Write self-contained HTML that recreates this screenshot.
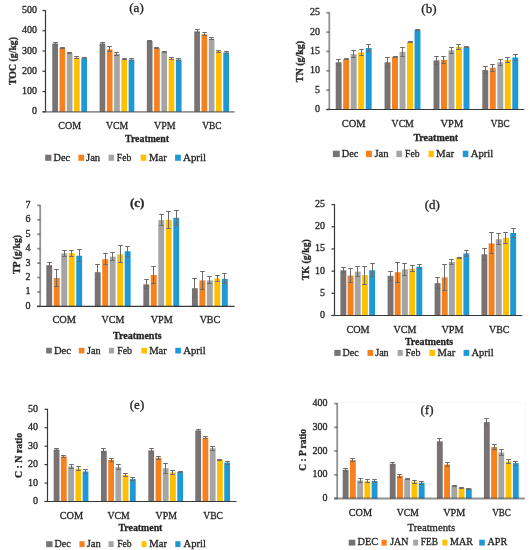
<!DOCTYPE html>
<html><head><meta charset="utf-8"><style>
html,body{margin:0;padding:0;background:#fff;}
svg{display:block;will-change:transform;}
text{font-family:"Liberation Serif",serif;fill:#262626;stroke:#262626;stroke-width:0.3px;}
</style></head><body>
<svg width="530" height="550" viewBox="0 0 530 550">
<rect width="530" height="550" fill="#fff"/>
<rect x="52.26" y="43.52" width="5.7" height="68.28" fill="#787272"/>
<rect x="59.52" y="47.98" width="5.7" height="63.82" fill="#F7801F"/>
<rect x="66.78" y="53.05" width="5.7" height="58.75" fill="#A5A5A5"/>
<rect x="74.04" y="57.71" width="5.7" height="54.09" fill="#FFC000"/>
<rect x="81.3" y="58.31" width="5.7" height="53.49" fill="#1E98D6"/>
<rect x="99.59" y="43.52" width="5.7" height="68.28" fill="#787272"/>
<rect x="106.85" y="49.4" width="5.7" height="62.4" fill="#F7801F"/>
<rect x="114.11" y="53.86" width="5.7" height="57.94" fill="#A5A5A5"/>
<rect x="121.37" y="59.33" width="5.7" height="52.47" fill="#FFC000"/>
<rect x="128.63" y="59.53" width="5.7" height="52.27" fill="#1E98D6"/>
<rect x="146.82" y="41.09" width="5.7" height="70.71" fill="#787272"/>
<rect x="154.08" y="48.18" width="5.7" height="63.62" fill="#F7801F"/>
<rect x="161.34" y="52.03" width="5.7" height="59.77" fill="#A5A5A5"/>
<rect x="168.6" y="58.52" width="5.7" height="53.28" fill="#FFC000"/>
<rect x="175.86" y="59.53" width="5.7" height="52.27" fill="#1E98D6"/>
<rect x="194.24" y="31.37" width="5.7" height="80.43" fill="#787272"/>
<rect x="201.5" y="34.2" width="5.7" height="77.6" fill="#F7801F"/>
<rect x="208.76" y="38.66" width="5.7" height="73.14" fill="#A5A5A5"/>
<rect x="216.02" y="51.22" width="5.7" height="60.58" fill="#FFC000"/>
<rect x="223.28" y="52.44" width="5.7" height="59.36" fill="#1E98D6"/>
<path d="M55.5 42.5V44.5M53.2 42.5H57.8M53.2 44.5H57.8" stroke="#6b6b6b" stroke-width="1" fill="none"/>
<path d="M62.5 47.5V48.5M60.2 47.5H64.8M60.2 48.5H64.8" stroke="#6b6b6b" stroke-width="1" fill="none"/>
<path d="M69.5 52.5V53.5M67.2 52.5H71.8M67.2 53.5H71.8" stroke="#6b6b6b" stroke-width="1" fill="none"/>
<path d="M76.5 56.5V58.5M74.2 56.5H78.8M74.2 58.5H78.8" stroke="#6b6b6b" stroke-width="1" fill="none"/>
<path d="M84.5 57.5V58.5M82.2 57.5H86.8M82.2 58.5H86.8" stroke="#6b6b6b" stroke-width="1" fill="none"/>
<path d="M102.5 42.5V44.5M100.2 42.5H104.8M100.2 44.5H104.8" stroke="#6b6b6b" stroke-width="1" fill="none"/>
<path d="M109.5 46.5V51.5M107.2 46.5H111.8M107.2 51.5H111.8" stroke="#6b6b6b" stroke-width="1" fill="none"/>
<path d="M116.5 52.5V55.5M114.2 52.5H118.8M114.2 55.5H118.8" stroke="#6b6b6b" stroke-width="1" fill="none"/>
<path d="M124.5 58.5V59.5M122.2 58.5H126.8M122.2 59.5H126.8" stroke="#6b6b6b" stroke-width="1" fill="none"/>
<path d="M131.5 58.5V60.5M129.2 58.5H133.8M129.2 60.5H133.8" stroke="#6b6b6b" stroke-width="1" fill="none"/>
<path d="M149.5 40.5V41.5M147.2 40.5H151.8M147.2 41.5H151.8" stroke="#6b6b6b" stroke-width="1" fill="none"/>
<path d="M156.5 47.5V48.5M154.2 47.5H158.8M154.2 48.5H158.8" stroke="#6b6b6b" stroke-width="1" fill="none"/>
<path d="M164.5 51.5V52.5M162.2 51.5H166.8M162.2 52.5H166.8" stroke="#6b6b6b" stroke-width="1" fill="none"/>
<path d="M171.5 57.5V59.5M169.2 57.5H173.8M169.2 59.5H173.8" stroke="#6b6b6b" stroke-width="1" fill="none"/>
<path d="M178.5 58.5V60.5M176.2 58.5H180.8M176.2 60.5H180.8" stroke="#6b6b6b" stroke-width="1" fill="none"/>
<path d="M197.5 29.5V32.5M195.2 29.5H199.8M195.2 32.5H199.8" stroke="#6b6b6b" stroke-width="1" fill="none"/>
<path d="M204.5 32.5V35.5M202.2 32.5H206.8M202.2 35.5H206.8" stroke="#6b6b6b" stroke-width="1" fill="none"/>
<path d="M211.5 37.5V39.5M209.2 37.5H213.8M209.2 39.5H213.8" stroke="#6b6b6b" stroke-width="1" fill="none"/>
<path d="M218.5 50.5V52.5M216.2 50.5H220.8M216.2 52.5H220.8" stroke="#6b6b6b" stroke-width="1" fill="none"/>
<path d="M226.5 51.5V53.5M224.2 51.5H228.8M224.2 53.5H228.8" stroke="#6b6b6b" stroke-width="1" fill="none"/>
<path d="M45.5 10V111.8" stroke="#383838" stroke-width="1.2"/>
<path d="M42.5 111.8H234.6" stroke="#3a3a3a" stroke-opacity="0.55" stroke-width="1.8"/>
<path d="M42.5 111.8H45.5" stroke="#383838" stroke-width="1.2"/>
<text x="36.9" y="114.3" font-size="9.5" text-anchor="end" textLength="5" lengthAdjust="spacingAndGlyphs">0</text>
<path d="M42.5 91.54H45.5" stroke="#383838" stroke-width="1.2"/>
<text x="36.9" y="94.04" font-size="9.5" text-anchor="end" textLength="15" lengthAdjust="spacingAndGlyphs">100</text>
<path d="M42.5 71.28H45.5" stroke="#383838" stroke-width="1.2"/>
<text x="36.9" y="73.78" font-size="9.5" text-anchor="end" textLength="15" lengthAdjust="spacingAndGlyphs">200</text>
<path d="M42.5 51.02H45.5" stroke="#383838" stroke-width="1.2"/>
<text x="36.9" y="53.52" font-size="9.5" text-anchor="end" textLength="15" lengthAdjust="spacingAndGlyphs">300</text>
<path d="M42.5 30.76H45.5" stroke="#383838" stroke-width="1.2"/>
<text x="36.9" y="33.26" font-size="9.5" text-anchor="end" textLength="15" lengthAdjust="spacingAndGlyphs">400</text>
<path d="M42.5 10.5H45.5" stroke="#383838" stroke-width="1.2"/>
<text x="36.9" y="13" font-size="9.5" text-anchor="end" textLength="15" lengthAdjust="spacingAndGlyphs">500</text>
<text x="136.5" y="12.4" font-size="13" text-anchor="middle">(a)</text>
<text transform="translate(16 61) rotate(-90)" font-size="10.5" font-weight="bold" text-anchor="middle" textLength="48" lengthAdjust="spacingAndGlyphs">TOC (g/kg)</text>
<text x="58.3" y="128.6" font-size="10.5" textLength="22.8" lengthAdjust="spacingAndGlyphs">COM</text>
<text x="106" y="128.6" font-size="10.5" textLength="22.2" lengthAdjust="spacingAndGlyphs">VCM</text>
<text x="154" y="128.6" font-size="10.5" textLength="21.5" lengthAdjust="spacingAndGlyphs">VPM</text>
<text x="202.3" y="128.6" font-size="10.5" textLength="19.2" lengthAdjust="spacingAndGlyphs">VBC</text>
<text x="125.1" y="141.5" font-size="10.5" font-weight="bold" textLength="43.9" lengthAdjust="spacingAndGlyphs">Treatment</text>
<rect x="45.2" y="154.7" width="6.2" height="6.1" fill="#787272"/>
<text x="53.5" y="160.8" font-size="10.5" textLength="16.6" lengthAdjust="spacingAndGlyphs">Dec</text>
<rect x="78.4" y="154.7" width="5.8" height="6.1" fill="#F7801F"/>
<text x="86" y="160.8" font-size="10.5" textLength="14.2" lengthAdjust="spacingAndGlyphs">Jan</text>
<rect x="108.5" y="154.7" width="5.6" height="6.1" fill="#A5A5A5"/>
<text x="116.8" y="160.8" font-size="10.5" textLength="14.5" lengthAdjust="spacingAndGlyphs">Feb</text>
<rect x="140.7" y="154.7" width="5.5" height="6.1" fill="#FFC000"/>
<text x="149" y="160.8" font-size="10.5" textLength="17.7" lengthAdjust="spacingAndGlyphs">Mar</text>
<rect x="175.1" y="154.7" width="5.7" height="6.1" fill="#1E98D6"/>
<text x="183" y="160.8" font-size="10.5" textLength="23.1" lengthAdjust="spacingAndGlyphs">April</text>
<rect x="335.7" y="62.31" width="5.95" height="47.19" fill="#787272"/>
<rect x="343.2" y="59.22" width="5.95" height="50.28" fill="#F7801F"/>
<rect x="350.7" y="54.19" width="5.95" height="55.31" fill="#A5A5A5"/>
<rect x="358.19" y="52.45" width="5.95" height="57.05" fill="#FFC000"/>
<rect x="365.69" y="48" width="5.95" height="61.5" fill="#1E98D6"/>
<rect x="384.54" y="62.31" width="5.95" height="47.19" fill="#787272"/>
<rect x="392.04" y="56.7" width="5.95" height="52.8" fill="#F7801F"/>
<rect x="399.54" y="51.87" width="5.95" height="57.63" fill="#A5A5A5"/>
<rect x="407.03" y="41.81" width="5.95" height="67.69" fill="#FFC000"/>
<rect x="414.53" y="30.21" width="5.95" height="79.29" fill="#1E98D6"/>
<rect x="433.51" y="60.38" width="5.95" height="49.12" fill="#787272"/>
<rect x="441.01" y="59.99" width="5.95" height="49.51" fill="#F7801F"/>
<rect x="448.51" y="50.32" width="5.95" height="59.18" fill="#A5A5A5"/>
<rect x="456" y="47.03" width="5.95" height="62.47" fill="#FFC000"/>
<rect x="463.5" y="47.23" width="5.95" height="62.27" fill="#1E98D6"/>
<rect x="482.31" y="70.05" width="5.95" height="39.45" fill="#787272"/>
<rect x="489.81" y="67.73" width="5.95" height="41.77" fill="#F7801F"/>
<rect x="497.31" y="62.31" width="5.95" height="47.19" fill="#A5A5A5"/>
<rect x="504.8" y="59.99" width="5.95" height="49.51" fill="#FFC000"/>
<rect x="512.3" y="57.48" width="5.95" height="52.02" fill="#1E98D6"/>
<path d="M338.5 59.5V65.5M336.2 59.5H340.8M336.2 65.5H340.8" stroke="#6b6b6b" stroke-width="1" fill="none"/>
<path d="M346.5 58.5V59.5M344.2 58.5H348.8M344.2 59.5H348.8" stroke="#6b6b6b" stroke-width="1" fill="none"/>
<path d="M353.5 50.5V57.5M351.2 50.5H355.8M351.2 57.5H355.8" stroke="#6b6b6b" stroke-width="1" fill="none"/>
<path d="M361.5 49.5V55.5M359.2 49.5H363.8M359.2 55.5H363.8" stroke="#6b6b6b" stroke-width="1" fill="none"/>
<path d="M368.5 44.5V51.5M366.2 44.5H370.8M366.2 51.5H370.8" stroke="#6b6b6b" stroke-width="1" fill="none"/>
<path d="M387.5 57.5V67.5M385.2 57.5H389.8M385.2 67.5H389.8" stroke="#6b6b6b" stroke-width="1" fill="none"/>
<path d="M395.5 56.5V57.5M393.2 56.5H397.8M393.2 57.5H397.8" stroke="#6b6b6b" stroke-width="1" fill="none"/>
<path d="M402.5 47.5V56.5M400.2 47.5H404.8M400.2 56.5H404.8" stroke="#6b6b6b" stroke-width="1" fill="none"/>
<path d="M410.5 41.5V42.5M408.2 41.5H412.8M408.2 42.5H412.8" stroke="#6b6b6b" stroke-width="1" fill="none"/>
<path d="M417.5 29.5V30.5M415.2 29.5H419.8M415.2 30.5H419.8" stroke="#6b6b6b" stroke-width="1" fill="none"/>
<path d="M436.5 56.5V64.5M434.2 56.5H438.8M434.2 64.5H438.8" stroke="#6b6b6b" stroke-width="1" fill="none"/>
<path d="M443.5 56.5V63.5M441.2 56.5H445.8M441.2 63.5H445.8" stroke="#6b6b6b" stroke-width="1" fill="none"/>
<path d="M451.5 47.5V53.5M449.2 47.5H453.8M449.2 53.5H453.8" stroke="#6b6b6b" stroke-width="1" fill="none"/>
<path d="M458.5 44.5V49.5M456.2 44.5H460.8M456.2 49.5H460.8" stroke="#6b6b6b" stroke-width="1" fill="none"/>
<path d="M466.5 46.5V47.5M464.2 46.5H468.8M464.2 47.5H468.8" stroke="#6b6b6b" stroke-width="1" fill="none"/>
<path d="M485.5 66.5V73.5M483.2 66.5H487.8M483.2 73.5H487.8" stroke="#6b6b6b" stroke-width="1" fill="none"/>
<path d="M492.5 64.5V71.5M490.2 64.5H494.8M490.2 71.5H494.8" stroke="#6b6b6b" stroke-width="1" fill="none"/>
<path d="M500.5 59.5V65.5M498.2 59.5H502.8M498.2 65.5H502.8" stroke="#6b6b6b" stroke-width="1" fill="none"/>
<path d="M507.5 57.5V62.5M505.2 57.5H509.8M505.2 62.5H509.8" stroke="#6b6b6b" stroke-width="1" fill="none"/>
<path d="M515.5 54.5V60.5M513.2 54.5H517.8M513.2 60.5H517.8" stroke="#6b6b6b" stroke-width="1" fill="none"/>
<path d="M329.3 12.3V109.5" stroke="#3a3a3a" stroke-opacity="0.55" stroke-width="1.8"/>
<path d="M326.3 109.5H524.3" stroke="#383838" stroke-width="1.2"/>
<path d="M326.3 109.5H329.3" stroke="#3a3a3a" stroke-opacity="0.55" stroke-width="1.8"/>
<text x="319.9" y="112" font-size="9.5" text-anchor="end" textLength="5" lengthAdjust="spacingAndGlyphs">0</text>
<path d="M326.3 90.16H329.3" stroke="#3a3a3a" stroke-opacity="0.55" stroke-width="1.8"/>
<text x="319.9" y="92.66" font-size="9.5" text-anchor="end" textLength="5" lengthAdjust="spacingAndGlyphs">5</text>
<path d="M326.3 70.82H329.3" stroke="#3a3a3a" stroke-opacity="0.55" stroke-width="1.8"/>
<text x="319.9" y="73.32" font-size="9.5" text-anchor="end" textLength="10" lengthAdjust="spacingAndGlyphs">10</text>
<path d="M326.3 51.48H329.3" stroke="#3a3a3a" stroke-opacity="0.55" stroke-width="1.8"/>
<text x="319.9" y="53.98" font-size="9.5" text-anchor="end" textLength="10" lengthAdjust="spacingAndGlyphs">15</text>
<path d="M326.3 32.14H329.3" stroke="#3a3a3a" stroke-opacity="0.55" stroke-width="1.8"/>
<text x="319.9" y="34.64" font-size="9.5" text-anchor="end" textLength="10" lengthAdjust="spacingAndGlyphs">20</text>
<path d="M326.3 12.8H329.3" stroke="#3a3a3a" stroke-opacity="0.55" stroke-width="1.8"/>
<text x="319.9" y="15.3" font-size="9.5" text-anchor="end" textLength="10" lengthAdjust="spacingAndGlyphs">25</text>
<text x="428.9" y="12.7" font-size="13" text-anchor="middle">(b)</text>
<text transform="translate(303.2 61.5) rotate(-90)" font-size="10.5" font-weight="bold" text-anchor="middle" textLength="41.4" lengthAdjust="spacingAndGlyphs">TN (g/kg)</text>
<text x="341.8" y="127" font-size="10.5" textLength="23.9" lengthAdjust="spacingAndGlyphs">COM</text>
<text x="391.6" y="127" font-size="10.5" textLength="22.2" lengthAdjust="spacingAndGlyphs">VCM</text>
<text x="440.6" y="127" font-size="10.5" textLength="22.6" lengthAdjust="spacingAndGlyphs">VPM</text>
<text x="490.8" y="127" font-size="10.5" textLength="18.8" lengthAdjust="spacingAndGlyphs">VBC</text>
<text x="413.4" y="141" font-size="10.5" font-weight="bold" textLength="44.8" lengthAdjust="spacingAndGlyphs">Treatment</text>
<rect x="332.9" y="150.7" width="6.8" height="6.4" fill="#787272"/>
<text x="341.8" y="157.1" font-size="10.5" textLength="16.6" lengthAdjust="spacingAndGlyphs">Dec</text>
<rect x="366" y="150.7" width="5.9" height="6.4" fill="#F7801F"/>
<text x="374.4" y="157.1" font-size="10.5" textLength="14.1" lengthAdjust="spacingAndGlyphs">Jan</text>
<rect x="396.4" y="150.7" width="5.6" height="6.4" fill="#A5A5A5"/>
<text x="405.1" y="157.1" font-size="10.5" textLength="14.5" lengthAdjust="spacingAndGlyphs">Feb</text>
<rect x="428.6" y="150.7" width="5.2" height="6.4" fill="#FFC000"/>
<text x="436" y="157.1" font-size="10.5" textLength="18.1" lengthAdjust="spacingAndGlyphs">Mar</text>
<rect x="462.8" y="150.7" width="5.6" height="6.4" fill="#1E98D6"/>
<text x="470.7" y="157.1" font-size="10.5" textLength="22.6" lengthAdjust="spacingAndGlyphs">April</text>
<rect x="46.3" y="265.13" width="5.9" height="41.27" fill="#787272"/>
<rect x="53.78" y="277.98" width="5.9" height="28.42" fill="#F7801F"/>
<rect x="61.27" y="253.3" width="5.9" height="53.1" fill="#A5A5A5"/>
<rect x="68.75" y="253.16" width="5.9" height="53.24" fill="#FFC000"/>
<rect x="76.24" y="255.76" width="5.9" height="50.64" fill="#1E98D6"/>
<rect x="94.76" y="272.2" width="5.9" height="34.2" fill="#787272"/>
<rect x="102.24" y="259.22" width="5.9" height="47.18" fill="#F7801F"/>
<rect x="109.73" y="256.62" width="5.9" height="49.78" fill="#A5A5A5"/>
<rect x="117.21" y="254.31" width="5.9" height="52.09" fill="#FFC000"/>
<rect x="124.7" y="251.28" width="5.9" height="55.12" fill="#1E98D6"/>
<rect x="143.34" y="284.32" width="5.9" height="22.08" fill="#787272"/>
<rect x="150.82" y="275.09" width="5.9" height="31.31" fill="#F7801F"/>
<rect x="158.31" y="220.12" width="5.9" height="86.28" fill="#A5A5A5"/>
<rect x="165.79" y="219.83" width="5.9" height="86.57" fill="#FFC000"/>
<rect x="173.28" y="217.81" width="5.9" height="88.59" fill="#1E98D6"/>
<rect x="191.92" y="288.22" width="5.9" height="18.18" fill="#787272"/>
<rect x="199.4" y="280.43" width="5.9" height="25.97" fill="#F7801F"/>
<rect x="206.89" y="280.43" width="5.9" height="25.97" fill="#A5A5A5"/>
<rect x="214.37" y="278.41" width="5.9" height="27.99" fill="#FFC000"/>
<rect x="221.86" y="278.84" width="5.9" height="27.56" fill="#1E98D6"/>
<path d="M49.5 262.5V267.5M47.2 262.5H51.8M47.2 267.5H51.8" stroke="#6b6b6b" stroke-width="1" fill="none"/>
<path d="M56.5 269.5V286.5M54.2 269.5H58.8M54.2 286.5H58.8" stroke="#6b6b6b" stroke-width="1" fill="none"/>
<path d="M64.5 250.5V256.5M62.2 250.5H66.8M62.2 256.5H66.8" stroke="#6b6b6b" stroke-width="1" fill="none"/>
<path d="M71.5 250.5V256.5M69.2 250.5H73.8M69.2 256.5H73.8" stroke="#6b6b6b" stroke-width="1" fill="none"/>
<path d="M79.5 249.5V261.5M77.2 249.5H81.8M77.2 261.5H81.8" stroke="#6b6b6b" stroke-width="1" fill="none"/>
<path d="M97.5 264.5V279.5M95.2 264.5H99.8M95.2 279.5H99.8" stroke="#6b6b6b" stroke-width="1" fill="none"/>
<path d="M105.5 253.5V264.5M103.2 253.5H107.8M103.2 264.5H107.8" stroke="#6b6b6b" stroke-width="1" fill="none"/>
<path d="M112.5 252.5V260.5M110.2 252.5H114.8M110.2 260.5H114.8" stroke="#6b6b6b" stroke-width="1" fill="none"/>
<path d="M120.5 245.5V262.5M118.2 245.5H122.8M118.2 262.5H122.8" stroke="#6b6b6b" stroke-width="1" fill="none"/>
<path d="M127.5 246.5V256.5M125.2 246.5H129.8M125.2 256.5H129.8" stroke="#6b6b6b" stroke-width="1" fill="none"/>
<path d="M146.5 279.5V288.5M144.2 279.5H148.8M144.2 288.5H148.8" stroke="#6b6b6b" stroke-width="1" fill="none"/>
<path d="M153.5 266.5V283.5M151.2 266.5H155.8M151.2 283.5H155.8" stroke="#6b6b6b" stroke-width="1" fill="none"/>
<path d="M161.5 214.5V225.5M159.2 214.5H163.8M159.2 225.5H163.8" stroke="#6b6b6b" stroke-width="1" fill="none"/>
<path d="M168.5 211.5V228.5M166.2 211.5H170.8M166.2 228.5H170.8" stroke="#6b6b6b" stroke-width="1" fill="none"/>
<path d="M176.5 210.5V225.5M174.2 210.5H178.8M174.2 225.5H178.8" stroke="#6b6b6b" stroke-width="1" fill="none"/>
<path d="M194.5 278.5V297.5M192.2 278.5H196.8M192.2 297.5H196.8" stroke="#6b6b6b" stroke-width="1" fill="none"/>
<path d="M202.5 271.5V289.5M200.2 271.5H204.8M200.2 289.5H204.8" stroke="#6b6b6b" stroke-width="1" fill="none"/>
<path d="M209.5 276.5V283.5M207.2 276.5H211.8M207.2 283.5H211.8" stroke="#6b6b6b" stroke-width="1" fill="none"/>
<path d="M217.5 275.5V281.5M215.2 275.5H219.8M215.2 281.5H219.8" stroke="#6b6b6b" stroke-width="1" fill="none"/>
<path d="M224.5 273.5V283.5M222.2 273.5H226.8M222.2 283.5H226.8" stroke="#6b6b6b" stroke-width="1" fill="none"/>
<path d="M40.2 204.9V306.4" stroke="#3a3a3a" stroke-opacity="0.55" stroke-width="1.8"/>
<path d="M37.2 306.4H234.6" stroke="#383838" stroke-width="1.2"/>
<path d="M37.2 306.4H40.2" stroke="#3a3a3a" stroke-opacity="0.55" stroke-width="1.8"/>
<text x="30.6" y="308.9" font-size="9.5" text-anchor="end" textLength="5" lengthAdjust="spacingAndGlyphs">0</text>
<path d="M37.2 291.97H40.2" stroke="#3a3a3a" stroke-opacity="0.55" stroke-width="1.8"/>
<text x="30.6" y="294.47" font-size="9.5" text-anchor="end" textLength="5" lengthAdjust="spacingAndGlyphs">1</text>
<path d="M37.2 277.54H40.2" stroke="#3a3a3a" stroke-opacity="0.55" stroke-width="1.8"/>
<text x="30.6" y="280.04" font-size="9.5" text-anchor="end" textLength="5" lengthAdjust="spacingAndGlyphs">2</text>
<path d="M37.2 263.11H40.2" stroke="#3a3a3a" stroke-opacity="0.55" stroke-width="1.8"/>
<text x="30.6" y="265.61" font-size="9.5" text-anchor="end" textLength="5" lengthAdjust="spacingAndGlyphs">3</text>
<path d="M37.2 248.69H40.2" stroke="#3a3a3a" stroke-opacity="0.55" stroke-width="1.8"/>
<text x="30.6" y="251.19" font-size="9.5" text-anchor="end" textLength="5" lengthAdjust="spacingAndGlyphs">4</text>
<path d="M37.2 234.26H40.2" stroke="#3a3a3a" stroke-opacity="0.55" stroke-width="1.8"/>
<text x="30.6" y="236.76" font-size="9.5" text-anchor="end" textLength="5" lengthAdjust="spacingAndGlyphs">5</text>
<path d="M37.2 219.83H40.2" stroke="#3a3a3a" stroke-opacity="0.55" stroke-width="1.8"/>
<text x="30.6" y="222.33" font-size="9.5" text-anchor="end" textLength="5" lengthAdjust="spacingAndGlyphs">6</text>
<path d="M37.2 205.4H40.2" stroke="#3a3a3a" stroke-opacity="0.55" stroke-width="1.8"/>
<text x="30.6" y="207.9" font-size="9.5" text-anchor="end" textLength="5" lengthAdjust="spacingAndGlyphs">7</text>
<text x="137.2" y="207.4" font-size="13" text-anchor="middle" font-weight="bold">(c)</text>
<text transform="translate(20 254.5) rotate(-90)" font-size="10.5" font-weight="bold" text-anchor="middle" textLength="39.2" lengthAdjust="spacingAndGlyphs">TP (g/kg)</text>
<text x="52.4" y="323" font-size="10.5" textLength="23.7" lengthAdjust="spacingAndGlyphs">COM</text>
<text x="101.6" y="323" font-size="10.5" textLength="22.8" lengthAdjust="spacingAndGlyphs">VCM</text>
<text x="150.8" y="323" font-size="10.5" textLength="21.8" lengthAdjust="spacingAndGlyphs">VPM</text>
<text x="199.7" y="323" font-size="10.5" textLength="20.4" lengthAdjust="spacingAndGlyphs">VBC</text>
<text x="113" y="339.1" font-size="10.5" font-weight="bold" textLength="48.7" lengthAdjust="spacingAndGlyphs">Treatments</text>
<rect x="46.2" y="347.8" width="5.6" height="5.7" fill="#787272"/>
<text x="53.9" y="353.8" font-size="10.5" textLength="17" lengthAdjust="spacingAndGlyphs">Dec</text>
<rect x="78.8" y="347.8" width="5.6" height="5.7" fill="#F7801F"/>
<text x="87.1" y="353.8" font-size="10.5" textLength="13.5" lengthAdjust="spacingAndGlyphs">Jan</text>
<rect x="108.9" y="347.8" width="5.2" height="5.7" fill="#A5A5A5"/>
<text x="117.2" y="353.8" font-size="10.5" textLength="14.9" lengthAdjust="spacingAndGlyphs">Feb</text>
<rect x="141.3" y="347.8" width="5.7" height="5.7" fill="#FFC000"/>
<text x="149.2" y="353.8" font-size="10.5" textLength="17.5" lengthAdjust="spacingAndGlyphs">Mar</text>
<rect x="175.3" y="347.8" width="5.6" height="5.7" fill="#1E98D6"/>
<text x="183.2" y="353.8" font-size="10.5" textLength="22.6" lengthAdjust="spacingAndGlyphs">April</text>
<rect x="340.4" y="270.25" width="5.9" height="45.25" fill="#787272"/>
<rect x="347.59" y="275.58" width="5.9" height="39.92" fill="#F7801F"/>
<rect x="354.79" y="271.58" width="5.9" height="43.92" fill="#A5A5A5"/>
<rect x="361.98" y="275.13" width="5.9" height="40.37" fill="#FFC000"/>
<rect x="369.18" y="270.25" width="5.9" height="45.25" fill="#1E98D6"/>
<rect x="387.58" y="275.8" width="5.9" height="39.7" fill="#787272"/>
<rect x="394.77" y="272.25" width="5.9" height="43.25" fill="#F7801F"/>
<rect x="401.97" y="269.37" width="5.9" height="46.13" fill="#A5A5A5"/>
<rect x="409.16" y="268.7" width="5.9" height="46.8" fill="#FFC000"/>
<rect x="416.36" y="266.7" width="5.9" height="48.8" fill="#1E98D6"/>
<rect x="434.59" y="283.12" width="5.9" height="32.38" fill="#787272"/>
<rect x="441.78" y="277.35" width="5.9" height="38.15" fill="#F7801F"/>
<rect x="448.98" y="262.05" width="5.9" height="53.45" fill="#A5A5A5"/>
<rect x="456.17" y="257.61" width="5.9" height="57.89" fill="#FFC000"/>
<rect x="463.37" y="253.4" width="5.9" height="62.1" fill="#1E98D6"/>
<rect x="481.44" y="254.28" width="5.9" height="61.22" fill="#787272"/>
<rect x="488.63" y="243.42" width="5.9" height="72.08" fill="#F7801F"/>
<rect x="495.83" y="239.2" width="5.9" height="76.3" fill="#A5A5A5"/>
<rect x="503.02" y="237.87" width="5.9" height="77.63" fill="#FFC000"/>
<rect x="510.22" y="232.99" width="5.9" height="82.51" fill="#1E98D6"/>
<path d="M343.5 267.5V272.5M341.2 267.5H345.8M341.2 272.5H345.8" stroke="#6b6b6b" stroke-width="1" fill="none"/>
<path d="M350.5 268.5V282.5M348.2 268.5H352.8M348.2 282.5H352.8" stroke="#6b6b6b" stroke-width="1" fill="none"/>
<path d="M357.5 266.5V276.5M355.2 266.5H359.8M355.2 276.5H359.8" stroke="#6b6b6b" stroke-width="1" fill="none"/>
<path d="M364.5 266.5V284.5M362.2 266.5H366.8M362.2 284.5H366.8" stroke="#6b6b6b" stroke-width="1" fill="none"/>
<path d="M372.5 263.5V276.5M370.2 263.5H374.8M370.2 276.5H374.8" stroke="#6b6b6b" stroke-width="1" fill="none"/>
<path d="M390.5 271.5V280.5M388.2 271.5H392.8M388.2 280.5H392.8" stroke="#6b6b6b" stroke-width="1" fill="none"/>
<path d="M397.5 262.5V282.5M395.2 262.5H399.8M395.2 282.5H399.8" stroke="#6b6b6b" stroke-width="1" fill="none"/>
<path d="M404.5 263.5V275.5M402.2 263.5H406.8M402.2 275.5H406.8" stroke="#6b6b6b" stroke-width="1" fill="none"/>
<path d="M412.5 265.5V271.5M410.2 265.5H414.8M410.2 271.5H414.8" stroke="#6b6b6b" stroke-width="1" fill="none"/>
<path d="M419.5 264.5V268.5M417.2 264.5H421.8M417.2 268.5H421.8" stroke="#6b6b6b" stroke-width="1" fill="none"/>
<path d="M437.5 277.5V288.5M435.2 277.5H439.8M435.2 288.5H439.8" stroke="#6b6b6b" stroke-width="1" fill="none"/>
<path d="M444.5 264.5V290.5M442.2 264.5H446.8M442.2 290.5H446.8" stroke="#6b6b6b" stroke-width="1" fill="none"/>
<path d="M451.5 259.5V264.5M449.2 259.5H453.8M449.2 264.5H453.8" stroke="#6b6b6b" stroke-width="1" fill="none"/>
<path d="M459.5 257.5V258.5M457.2 257.5H461.8M457.2 258.5H461.8" stroke="#6b6b6b" stroke-width="1" fill="none"/>
<path d="M466.5 250.5V256.5M464.2 250.5H468.8M464.2 256.5H468.8" stroke="#6b6b6b" stroke-width="1" fill="none"/>
<path d="M484.5 248.5V260.5M482.2 248.5H486.8M482.2 260.5H486.8" stroke="#6b6b6b" stroke-width="1" fill="none"/>
<path d="M491.5 232.5V253.5M489.2 232.5H493.8M489.2 253.5H493.8" stroke="#6b6b6b" stroke-width="1" fill="none"/>
<path d="M498.5 233.5V244.5M496.2 233.5H500.8M496.2 244.5H500.8" stroke="#6b6b6b" stroke-width="1" fill="none"/>
<path d="M505.5 232.5V243.5M503.2 232.5H507.8M503.2 243.5H507.8" stroke="#6b6b6b" stroke-width="1" fill="none"/>
<path d="M513.5 228.5V237.5M511.2 228.5H515.8M511.2 237.5H515.8" stroke="#6b6b6b" stroke-width="1" fill="none"/>
<path d="M334.5 204.1V315.5" stroke="#383838" stroke-width="1.2"/>
<path d="M331.5 315.5H522.3" stroke="#383838" stroke-width="1.2"/>
<path d="M331.5 315.5H334.5" stroke="#383838" stroke-width="1.2"/>
<text x="324.9" y="318" font-size="9.5" text-anchor="end" textLength="5" lengthAdjust="spacingAndGlyphs">0</text>
<path d="M331.5 293.32H334.5" stroke="#383838" stroke-width="1.2"/>
<text x="324.9" y="295.82" font-size="9.5" text-anchor="end" textLength="5" lengthAdjust="spacingAndGlyphs">5</text>
<path d="M331.5 271.14H334.5" stroke="#383838" stroke-width="1.2"/>
<text x="324.9" y="273.64" font-size="9.5" text-anchor="end" textLength="10" lengthAdjust="spacingAndGlyphs">10</text>
<path d="M331.5 248.96H334.5" stroke="#383838" stroke-width="1.2"/>
<text x="324.9" y="251.46" font-size="9.5" text-anchor="end" textLength="10" lengthAdjust="spacingAndGlyphs">15</text>
<path d="M331.5 226.78H334.5" stroke="#383838" stroke-width="1.2"/>
<text x="324.9" y="229.28" font-size="9.5" text-anchor="end" textLength="10" lengthAdjust="spacingAndGlyphs">20</text>
<path d="M331.5 204.6H334.5" stroke="#383838" stroke-width="1.2"/>
<text x="324.9" y="207.1" font-size="9.5" text-anchor="end" textLength="10" lengthAdjust="spacingAndGlyphs">25</text>
<text x="432.3" y="208.5" font-size="13" text-anchor="middle">(d)</text>
<text transform="translate(308.5 259.7) rotate(-90)" font-size="10.5" font-weight="bold" text-anchor="middle" textLength="40.9" lengthAdjust="spacingAndGlyphs">TK (g/kg)</text>
<text x="346.4" y="333" font-size="10.5" textLength="23.2" lengthAdjust="spacingAndGlyphs">COM</text>
<text x="393.5" y="333" font-size="10.5" textLength="22.8" lengthAdjust="spacingAndGlyphs">VCM</text>
<text x="441.4" y="333" font-size="10.5" textLength="22.2" lengthAdjust="spacingAndGlyphs">VPM</text>
<text x="489.1" y="333" font-size="10.5" textLength="20.1" lengthAdjust="spacingAndGlyphs">VBC</text>
<text x="404.9" y="345.2" font-size="10.5" font-weight="bold" textLength="48.3" lengthAdjust="spacingAndGlyphs">Treatments</text>
<rect x="334.3" y="349.9" width="6.3" height="6" fill="#787272"/>
<text x="342.6" y="356" font-size="10.5" textLength="16.2" lengthAdjust="spacingAndGlyphs">Dec</text>
<rect x="367.5" y="349.9" width="5.7" height="6" fill="#F7801F"/>
<text x="375.2" y="356" font-size="10.5" textLength="13.5" lengthAdjust="spacingAndGlyphs">Jan</text>
<rect x="397.6" y="349.9" width="5.2" height="6" fill="#A5A5A5"/>
<text x="405.5" y="356" font-size="10.5" textLength="15" lengthAdjust="spacingAndGlyphs">Feb</text>
<rect x="429.3" y="349.9" width="5.7" height="6" fill="#FFC000"/>
<text x="437.6" y="356" font-size="10.5" textLength="17.7" lengthAdjust="spacingAndGlyphs">Mar</text>
<rect x="463.6" y="349.9" width="5.6" height="6" fill="#1E98D6"/>
<text x="471.5" y="356" font-size="10.5" textLength="22.2" lengthAdjust="spacingAndGlyphs">April</text>
<rect x="53.66" y="449.5" width="5.8" height="52" fill="#787272"/>
<rect x="60.9" y="456.51" width="5.8" height="44.99" fill="#F7801F"/>
<rect x="68.14" y="466.46" width="5.8" height="35.04" fill="#A5A5A5"/>
<rect x="75.38" y="468.68" width="5.8" height="32.82" fill="#FFC000"/>
<rect x="82.62" y="471.44" width="5.8" height="30.06" fill="#1E98D6"/>
<rect x="100.95" y="450.79" width="5.8" height="50.71" fill="#787272"/>
<rect x="108.19" y="460.01" width="5.8" height="41.49" fill="#F7801F"/>
<rect x="115.43" y="467.2" width="5.8" height="34.3" fill="#A5A5A5"/>
<rect x="122.67" y="474.95" width="5.8" height="26.55" fill="#FFC000"/>
<rect x="129.91" y="479.1" width="5.8" height="22.4" fill="#1E98D6"/>
<rect x="148.31" y="450.42" width="5.8" height="51.08" fill="#787272"/>
<rect x="155.55" y="457.7" width="5.8" height="43.8" fill="#F7801F"/>
<rect x="162.79" y="468.22" width="5.8" height="33.28" fill="#A5A5A5"/>
<rect x="170.03" y="472.36" width="5.8" height="29.14" fill="#FFC000"/>
<rect x="177.27" y="471.81" width="5.8" height="29.69" fill="#1E98D6"/>
<rect x="195.3" y="430.51" width="5.8" height="70.99" fill="#787272"/>
<rect x="202.54" y="437.7" width="5.8" height="63.8" fill="#F7801F"/>
<rect x="209.78" y="448.21" width="5.8" height="53.29" fill="#A5A5A5"/>
<rect x="217.02" y="459.83" width="5.8" height="41.67" fill="#FFC000"/>
<rect x="224.26" y="462.59" width="5.8" height="38.91" fill="#1E98D6"/>
<path d="M56.5 448.5V450.5M54.2 448.5H58.8M54.2 450.5H58.8" stroke="#6b6b6b" stroke-width="1" fill="none"/>
<path d="M63.5 455.5V457.5M61.2 455.5H65.8M61.2 457.5H65.8" stroke="#6b6b6b" stroke-width="1" fill="none"/>
<path d="M71.5 464.5V468.5M69.2 464.5H73.8M69.2 468.5H73.8" stroke="#6b6b6b" stroke-width="1" fill="none"/>
<path d="M78.5 466.5V470.5M76.2 466.5H80.8M76.2 470.5H80.8" stroke="#6b6b6b" stroke-width="1" fill="none"/>
<path d="M85.5 469.5V473.5M83.2 469.5H87.8M83.2 473.5H87.8" stroke="#6b6b6b" stroke-width="1" fill="none"/>
<path d="M103.5 448.5V452.5M101.2 448.5H105.8M101.2 452.5H105.8" stroke="#6b6b6b" stroke-width="1" fill="none"/>
<path d="M111.5 458.5V461.5M109.2 458.5H113.8M109.2 461.5H113.8" stroke="#6b6b6b" stroke-width="1" fill="none"/>
<path d="M118.5 464.5V469.5M116.2 464.5H120.8M116.2 469.5H120.8" stroke="#6b6b6b" stroke-width="1" fill="none"/>
<path d="M125.5 473.5V476.5M123.2 473.5H127.8M123.2 476.5H127.8" stroke="#6b6b6b" stroke-width="1" fill="none"/>
<path d="M132.5 477.5V480.5M130.2 477.5H134.8M130.2 480.5H134.8" stroke="#6b6b6b" stroke-width="1" fill="none"/>
<path d="M151.5 448.5V452.5M149.2 448.5H153.8M149.2 452.5H153.8" stroke="#6b6b6b" stroke-width="1" fill="none"/>
<path d="M158.5 456.5V459.5M156.2 456.5H160.8M156.2 459.5H160.8" stroke="#6b6b6b" stroke-width="1" fill="none"/>
<path d="M165.5 463.5V473.5M163.2 463.5H167.8M163.2 473.5H167.8" stroke="#6b6b6b" stroke-width="1" fill="none"/>
<path d="M172.5 470.5V474.5M170.2 470.5H174.8M170.2 474.5H174.8" stroke="#6b6b6b" stroke-width="1" fill="none"/>
<path d="M180.5 471.5V472.5M178.2 471.5H182.8M178.2 472.5H182.8" stroke="#6b6b6b" stroke-width="1" fill="none"/>
<path d="M198.5 429.5V431.5M196.2 429.5H200.8M196.2 431.5H200.8" stroke="#6b6b6b" stroke-width="1" fill="none"/>
<path d="M205.5 436.5V438.5M203.2 436.5H207.8M203.2 438.5H207.8" stroke="#6b6b6b" stroke-width="1" fill="none"/>
<path d="M212.5 446.5V450.5M210.2 446.5H214.8M210.2 450.5H214.8" stroke="#6b6b6b" stroke-width="1" fill="none"/>
<path d="M219.5 459.5V460.5M217.2 459.5H221.8M217.2 460.5H221.8" stroke="#6b6b6b" stroke-width="1" fill="none"/>
<path d="M227.5 461.5V464.5M225.2 461.5H229.8M225.2 464.5H229.8" stroke="#6b6b6b" stroke-width="1" fill="none"/>
<path d="M47.5 408.8V501.5" stroke="#383838" stroke-width="1.2"/>
<path d="M44.5 501.5H236.5" stroke="#383838" stroke-width="1.2"/>
<path d="M44.5 501.5H47.5" stroke="#383838" stroke-width="1.2"/>
<text x="38.1" y="504" font-size="9.5" text-anchor="end" textLength="5" lengthAdjust="spacingAndGlyphs">0</text>
<path d="M44.5 483.06H47.5" stroke="#383838" stroke-width="1.2"/>
<text x="38.1" y="485.56" font-size="9.5" text-anchor="end" textLength="10" lengthAdjust="spacingAndGlyphs">10</text>
<path d="M44.5 464.62H47.5" stroke="#383838" stroke-width="1.2"/>
<text x="38.1" y="467.12" font-size="9.5" text-anchor="end" textLength="10" lengthAdjust="spacingAndGlyphs">20</text>
<path d="M44.5 446.18H47.5" stroke="#383838" stroke-width="1.2"/>
<text x="38.1" y="448.68" font-size="9.5" text-anchor="end" textLength="10" lengthAdjust="spacingAndGlyphs">30</text>
<path d="M44.5 427.74H47.5" stroke="#383838" stroke-width="1.2"/>
<text x="38.1" y="430.24" font-size="9.5" text-anchor="end" textLength="10" lengthAdjust="spacingAndGlyphs">40</text>
<path d="M44.5 409.3H47.5" stroke="#383838" stroke-width="1.2"/>
<text x="38.1" y="411.8" font-size="9.5" text-anchor="end" textLength="10" lengthAdjust="spacingAndGlyphs">50</text>
<text x="137" y="408.6" font-size="13" text-anchor="middle">(e)</text>
<text transform="translate(21.8 455.4) rotate(-90)" font-size="10.5" font-weight="bold" text-anchor="middle" textLength="45.1" lengthAdjust="spacingAndGlyphs">C : N ratio</text>
<text x="59.7" y="518.6" font-size="10.5" textLength="23.5" lengthAdjust="spacingAndGlyphs">COM</text>
<text x="107.5" y="518.6" font-size="10.5" textLength="22.2" lengthAdjust="spacingAndGlyphs">VCM</text>
<text x="155.6" y="518.6" font-size="10.5" textLength="21.3" lengthAdjust="spacingAndGlyphs">VPM</text>
<text x="203.3" y="518.6" font-size="10.5" textLength="19.7" lengthAdjust="spacingAndGlyphs">VBC</text>
<text x="118.5" y="531.1" font-size="10.5" font-weight="bold" textLength="43.9" lengthAdjust="spacingAndGlyphs">Treatment</text>
<rect x="46.2" y="541.2" width="6.3" height="5.9" fill="#787272"/>
<text x="54.5" y="547.2" font-size="10.5" textLength="16.2" lengthAdjust="spacingAndGlyphs">Dec</text>
<rect x="79.4" y="541.2" width="5.2" height="5.9" fill="#F7801F"/>
<text x="86.7" y="547.2" font-size="10.5" textLength="14.1" lengthAdjust="spacingAndGlyphs">Jan</text>
<rect x="108.5" y="541.2" width="5.2" height="5.9" fill="#A5A5A5"/>
<text x="117.2" y="547.2" font-size="10.5" textLength="14.5" lengthAdjust="spacingAndGlyphs">Feb</text>
<rect x="141.7" y="541.2" width="4.8" height="5.9" fill="#FFC000"/>
<text x="149.3" y="547.2" font-size="10.5" textLength="17.7" lengthAdjust="spacingAndGlyphs">Mar</text>
<rect x="175.3" y="541.2" width="5.2" height="5.9" fill="#1E98D6"/>
<text x="183.6" y="547.2" font-size="10.5" textLength="22.4" lengthAdjust="spacingAndGlyphs">April</text>
<rect x="337.2" y="402.8" width="187.9" height="95.7" fill="none" stroke="#f3f3f3" stroke-width="0.8"/>
<rect x="342.68" y="469.79" width="5.85" height="28.71" fill="#787272"/>
<rect x="349.92" y="460.16" width="5.85" height="38.34" fill="#F7801F"/>
<rect x="357.16" y="480.47" width="5.85" height="18.03" fill="#A5A5A5"/>
<rect x="364.4" y="481.42" width="5.85" height="17.08" fill="#FFC000"/>
<rect x="371.65" y="480.94" width="5.85" height="17.56" fill="#1E98D6"/>
<rect x="389.77" y="463.77" width="5.85" height="34.73" fill="#787272"/>
<rect x="397.02" y="475.87" width="5.85" height="22.63" fill="#F7801F"/>
<rect x="404.26" y="479.16" width="5.85" height="19.34" fill="#A5A5A5"/>
<rect x="411.5" y="481.58" width="5.85" height="16.92" fill="#FFC000"/>
<rect x="418.75" y="482.68" width="5.85" height="15.82" fill="#1E98D6"/>
<rect x="436.88" y="441.32" width="5.85" height="57.18" fill="#787272"/>
<rect x="444.13" y="464.57" width="5.85" height="33.93" fill="#F7801F"/>
<rect x="451.37" y="486" width="5.85" height="12.5" fill="#A5A5A5"/>
<rect x="458.61" y="487.49" width="5.85" height="11.01" fill="#FFC000"/>
<rect x="465.86" y="488.54" width="5.85" height="9.96" fill="#1E98D6"/>
<rect x="483.9" y="422.11" width="5.85" height="76.39" fill="#787272"/>
<rect x="491.15" y="447.02" width="5.85" height="51.48" fill="#F7801F"/>
<rect x="498.39" y="452.47" width="5.85" height="46.03" fill="#A5A5A5"/>
<rect x="505.63" y="461.49" width="5.85" height="37.01" fill="#FFC000"/>
<rect x="512.88" y="463.15" width="5.85" height="35.35" fill="#1E98D6"/>
<path d="M345.5 468.5V471.5M343.2 468.5H347.8M343.2 471.5H347.8" stroke="#6b6b6b" stroke-width="1" fill="none"/>
<path d="M352.5 458.5V461.5M350.2 458.5H354.8M350.2 461.5H354.8" stroke="#6b6b6b" stroke-width="1" fill="none"/>
<path d="M360.5 478.5V482.5M358.2 478.5H362.8M358.2 482.5H362.8" stroke="#6b6b6b" stroke-width="1" fill="none"/>
<path d="M367.5 479.5V482.5M365.2 479.5H369.8M365.2 482.5H369.8" stroke="#6b6b6b" stroke-width="1" fill="none"/>
<path d="M374.5 479.5V482.5M372.2 479.5H376.8M372.2 482.5H376.8" stroke="#6b6b6b" stroke-width="1" fill="none"/>
<path d="M392.5 462.5V465.5M390.2 462.5H394.8M390.2 465.5H394.8" stroke="#6b6b6b" stroke-width="1" fill="none"/>
<path d="M399.5 474.5V477.5M397.2 474.5H401.8M397.2 477.5H401.8" stroke="#6b6b6b" stroke-width="1" fill="none"/>
<path d="M407.5 478.5V479.5M405.2 478.5H409.8M405.2 479.5H409.8" stroke="#6b6b6b" stroke-width="1" fill="none"/>
<path d="M414.5 480.5V483.5M412.2 480.5H416.8M412.2 483.5H416.8" stroke="#6b6b6b" stroke-width="1" fill="none"/>
<path d="M421.5 481.5V484.5M419.2 481.5H423.8M419.2 484.5H423.8" stroke="#6b6b6b" stroke-width="1" fill="none"/>
<path d="M439.5 438.5V444.5M437.2 438.5H441.8M437.2 444.5H441.8" stroke="#6b6b6b" stroke-width="1" fill="none"/>
<path d="M447.5 462.5V466.5M445.2 462.5H449.8M445.2 466.5H449.8" stroke="#6b6b6b" stroke-width="1" fill="none"/>
<path d="M454.5 485.5V486.5M452.2 485.5H456.8M452.2 486.5H456.8" stroke="#6b6b6b" stroke-width="1" fill="none"/>
<path d="M461.5 487.5V488.5M459.2 487.5H463.8M459.2 488.5H463.8" stroke="#6b6b6b" stroke-width="1" fill="none"/>
<path d="M468.5 488.5V489.5M466.2 488.5H470.8M466.2 489.5H470.8" stroke="#6b6b6b" stroke-width="1" fill="none"/>
<path d="M486.5 418.5V425.5M484.2 418.5H488.8M484.2 425.5H488.8" stroke="#6b6b6b" stroke-width="1" fill="none"/>
<path d="M494.5 444.5V449.5M492.2 444.5H496.8M492.2 449.5H496.8" stroke="#6b6b6b" stroke-width="1" fill="none"/>
<path d="M501.5 449.5V455.5M499.2 449.5H503.8M499.2 455.5H503.8" stroke="#6b6b6b" stroke-width="1" fill="none"/>
<path d="M508.5 459.5V463.5M506.2 459.5H510.8M506.2 463.5H510.8" stroke="#6b6b6b" stroke-width="1" fill="none"/>
<path d="M515.5 461.5V465.5M513.2 461.5H517.8M513.2 465.5H517.8" stroke="#6b6b6b" stroke-width="1" fill="none"/>
<path d="M337.2 403.1V498.5" stroke="#3a3a3a" stroke-opacity="0.55" stroke-width="1.8"/>
<path d="M334.2 498.5H524.8" stroke="#3a3a3a" stroke-opacity="0.55" stroke-width="1.8"/>
<path d="M334.2 498.5H337.2" stroke="#3a3a3a" stroke-opacity="0.55" stroke-width="1.8"/>
<text x="327.5" y="501" font-size="9.5" text-anchor="end" textLength="5" lengthAdjust="spacingAndGlyphs">0</text>
<path d="M334.2 474.77H337.2" stroke="#3a3a3a" stroke-opacity="0.55" stroke-width="1.8"/>
<text x="327.5" y="477.27" font-size="9.5" text-anchor="end" textLength="15" lengthAdjust="spacingAndGlyphs">100</text>
<path d="M334.2 451.05H337.2" stroke="#3a3a3a" stroke-opacity="0.55" stroke-width="1.8"/>
<text x="327.5" y="453.55" font-size="9.5" text-anchor="end" textLength="15" lengthAdjust="spacingAndGlyphs">200</text>
<path d="M334.2 427.33H337.2" stroke="#3a3a3a" stroke-opacity="0.55" stroke-width="1.8"/>
<text x="327.5" y="429.83" font-size="9.5" text-anchor="end" textLength="15" lengthAdjust="spacingAndGlyphs">300</text>
<path d="M334.2 403.6H337.2" stroke="#3a3a3a" stroke-opacity="0.55" stroke-width="1.8"/>
<text x="327.5" y="406.1" font-size="9.5" text-anchor="end" textLength="15" lengthAdjust="spacingAndGlyphs">400</text>
<text x="427" y="414.2" font-size="13" text-anchor="middle">(f)</text>
<text transform="translate(306.3 449.9) rotate(-90)" font-size="10.5" font-weight="bold" text-anchor="middle" textLength="41.7" lengthAdjust="spacingAndGlyphs">C : P ratio</text>
<text x="348.7" y="515.9" font-size="10.5" textLength="23.4" lengthAdjust="spacingAndGlyphs">COM</text>
<text x="396.8" y="515.9" font-size="10.5" textLength="22" lengthAdjust="spacingAndGlyphs">VCM</text>
<text x="443.2" y="515.9" font-size="10.5" textLength="22" lengthAdjust="spacingAndGlyphs">VPM</text>
<text x="492.2" y="515.9" font-size="10.5" textLength="18.7" lengthAdjust="spacingAndGlyphs">VBC</text>
<text x="407.5" y="530.9" font-size="10.5" textLength="47.6" lengthAdjust="spacingAndGlyphs">Treatments</text>
<rect x="348.7" y="539.7" width="6.6" height="5.9" fill="#787272"/>
<text x="357.6" y="545" font-size="10.5" textLength="20.6" lengthAdjust="spacingAndGlyphs">DEC</text>
<rect x="381.5" y="539.7" width="5.2" height="5.9" fill="#F7801F"/>
<text x="390.2" y="545" font-size="10.5" textLength="18.3" lengthAdjust="spacingAndGlyphs">JAN</text>
<rect x="413.2" y="539.7" width="4.9" height="5.9" fill="#A5A5A5"/>
<text x="420.8" y="545" font-size="10.5" textLength="17.1" lengthAdjust="spacingAndGlyphs">FEB</text>
<rect x="442.4" y="539.7" width="5" height="5.9" fill="#FFC000"/>
<text x="450.1" y="545" font-size="10.5" textLength="22.8" lengthAdjust="spacingAndGlyphs">MAR</text>
<rect x="479.2" y="539.7" width="5.6" height="5.9" fill="#1E98D6"/>
<text x="487.5" y="545" font-size="10.5" textLength="19.7" lengthAdjust="spacingAndGlyphs">APR</text>
</svg>
</body></html>
